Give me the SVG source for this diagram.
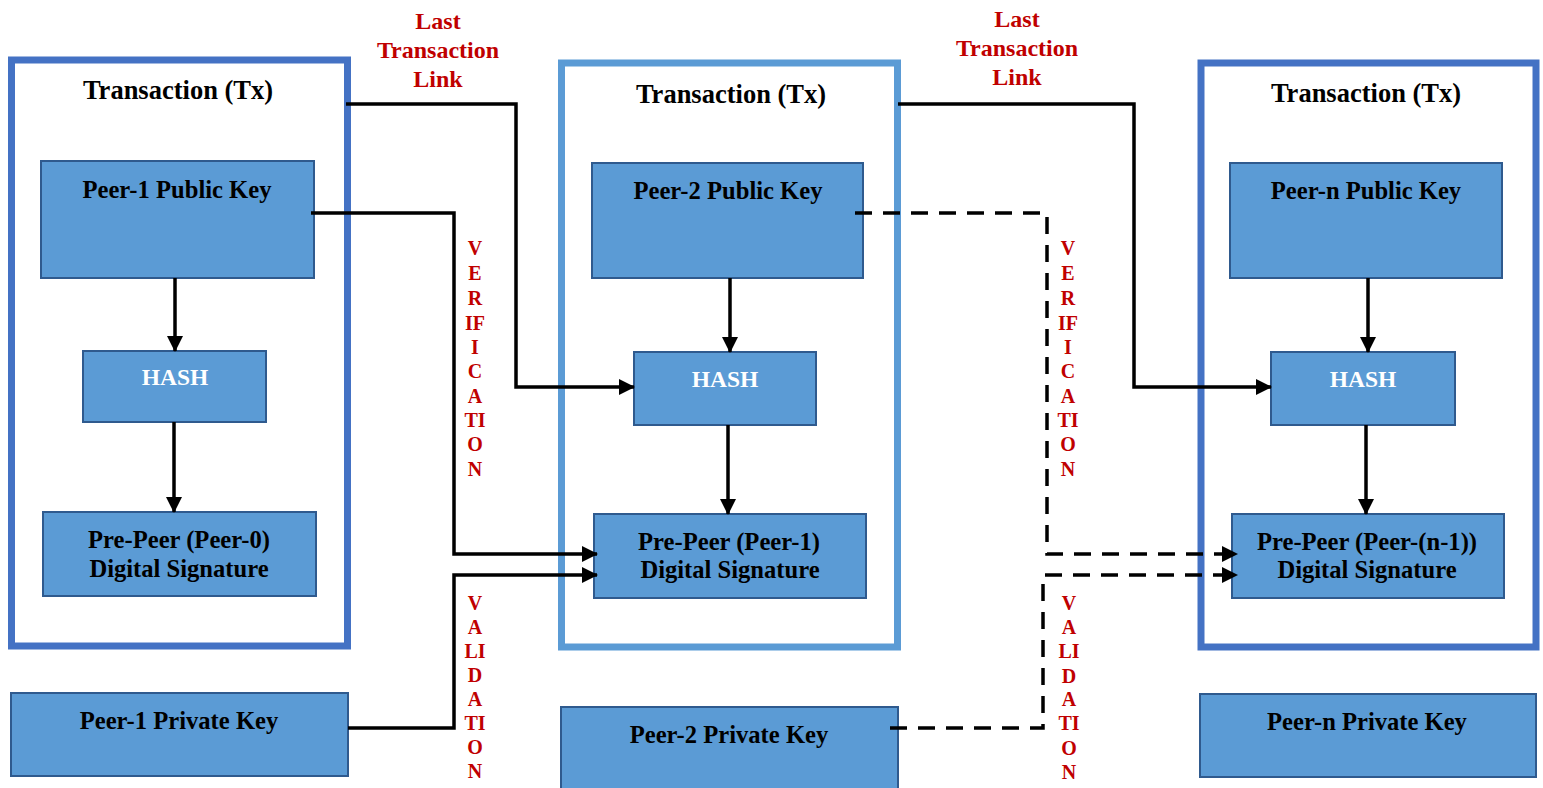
<svg xmlns="http://www.w3.org/2000/svg" width="1543" height="788" viewBox="0 0 1543 788">
<style>
.cont{fill:#fff;stroke-width:7}
.c1{stroke:#4472C4}.c2{stroke:#5B9BD5}
.box{fill:#5B9BD5;stroke:#2F5A8E;stroke-width:2}
text{font-family:"Liberation Serif","Times New Roman",serif;font-weight:bold;text-anchor:middle}
.title{font-size:26.5px;fill:#000}
.bt{font-size:24.6px;fill:#000}
.ht{font-size:23.5px;fill:#fff}
.red{font-size:24px;fill:#C00000}
.lt{font-size:20px;fill:#C00000}
.ln{fill:none;stroke:#000;stroke-width:3.5}
.dash{stroke-dasharray:17 11}
</style>
<defs>
<marker id="ah" markerUnits="userSpaceOnUse" markerWidth="16" markerHeight="16" refX="15" refY="8" orient="auto">
<path d="M0,0 L16,8 L0,16 z" fill="#000"/>
</marker>
</defs>

<g id="tx1">
<rect class="cont c1" x="11.5" y="60" width="336" height="586"/>
<text class="title" x="178" y="99">Transaction (Tx)</text>
</g>
<g id="tx2">
<rect class="cont c2" x="561.5" y="63" width="336" height="584"/>
<text class="title" x="731" y="103">Transaction (Tx)</text>
</g>
<g id="tx3">
<rect class="cont c1" x="1201" y="63" width="335" height="584"/>
<text class="title" x="1366" y="102">Transaction (Tx)</text>
</g>

<g id="pub1"><rect class="box" x="41" y="161" width="273" height="117"/><text class="bt" x="177" y="198">Peer-1 Public Key</text></g>
<g id="hash1"><rect class="box" x="83" y="351" width="183" height="71"/><text class="ht" x="175" y="385">HASH</text></g>
<g id="sig0"><rect class="box" x="43" y="512" width="273" height="84"/><text class="bt" x="179" y="548">Pre-Peer (Peer-0)</text><text class="bt" x="179" y="577">Digital Signature</text></g>
<g id="priv1"><rect class="box" x="11" y="693" width="337" height="83"/><text class="bt" x="179" y="729">Peer-1 Private Key</text></g>

<g id="pub2"><rect class="box" x="592" y="163" width="271" height="115"/><text class="bt" x="728" y="199">Peer-2 Public Key</text></g>
<g id="hash2"><rect class="box" x="634" y="352" width="182" height="73"/><text class="ht" x="725" y="387">HASH</text></g>
<g id="sig1"><rect class="box" x="594" y="514" width="272" height="84"/><text class="bt" x="729" y="550">Pre-Peer (Peer-1)</text><text class="bt" x="730" y="578">Digital Signature</text></g>
<g id="priv2"><rect class="box" x="561" y="707" width="337" height="90"/><text class="bt" x="729" y="743">Peer-2 Private Key</text></g>

<g id="pubn"><rect class="box" x="1230" y="163" width="272" height="115"/><text class="bt" x="1366" y="199">Peer-n Public Key</text></g>
<g id="hashn"><rect class="box" x="1271" y="352" width="184" height="73"/><text class="ht" x="1363" y="387">HASH</text></g>
<g id="sign1"><rect class="box" x="1232" y="514" width="272" height="84"/><text class="bt" x="1367" y="550">Pre-Peer (Peer-(n-1))</text><text class="bt" x="1367" y="578">Digital Signature</text></g>
<g id="privn"><rect class="box" x="1200" y="694" width="336" height="83"/><text class="bt" x="1367" y="730">Peer-n Private Key</text></g>

<g id="connectors">
<line class="ln" x1="175" y1="278" x2="175" y2="351" marker-end="url(#ah)"/>
<line class="ln" x1="174" y1="422" x2="174" y2="512" marker-end="url(#ah)"/>
<line class="ln" x1="730" y1="278" x2="730" y2="352" marker-end="url(#ah)"/>
<line class="ln" x1="728" y1="425" x2="728" y2="514" marker-end="url(#ah)"/>
<line class="ln" x1="1368" y1="278" x2="1368" y2="352" marker-end="url(#ah)"/>
<line class="ln" x1="1366" y1="425" x2="1366" y2="514" marker-end="url(#ah)"/>
<polyline class="ln" points="346,104 516,104 516,387 634,387" marker-end="url(#ah)"/>
<polyline class="ln" points="311,213 454,213 454,554 597,554" marker-end="url(#ah)"/>
<polyline class="ln" points="348,728 454,728 454,575 597,575" marker-end="url(#ah)"/>
<polyline class="ln" points="898,104 1134,104 1134,387 1271,387" marker-end="url(#ah)"/>
<polyline class="ln dash" points="855,213 1047,213 1047,554 1237,554" marker-end="url(#ah)"/>
<polyline class="ln dash" points="890,728 1043,728 1043,575 1237,575" marker-end="url(#ah)"/>
</g>

<g id="labels">
<text class="red" x="438" y="29">Last</text>
<text class="red" x="438" y="58">Transaction</text>
<text class="red" x="438" y="87">Link</text>
<text class="red" x="1017" y="27">Last</text>
<text class="red" x="1017" y="56">Transaction</text>
<text class="red" x="1017" y="85">Link</text>
<g class="lt">
<text class="lt" x="475" y="255">V</text><text class="lt" x="475" y="280">E</text><text class="lt" x="475" y="305">R</text><text class="lt" x="475" y="330">IF</text><text class="lt" x="475" y="354">I</text><text class="lt" x="475" y="378">C</text><text class="lt" x="475" y="403">A</text><text class="lt" x="475" y="427">TI</text><text class="lt" x="475" y="451">O</text><text class="lt" x="475" y="476">N</text>
<text class="lt" x="475" y="610">V</text><text class="lt" x="475" y="634">A</text><text class="lt" x="475" y="658">LI</text><text class="lt" x="475" y="682">D</text><text class="lt" x="475" y="706">A</text><text class="lt" x="475" y="730">TI</text><text class="lt" x="475" y="754">O</text><text class="lt" x="475" y="778">N</text>
<text class="lt" x="1068" y="255">V</text><text class="lt" x="1068" y="280">E</text><text class="lt" x="1068" y="305">R</text><text class="lt" x="1068" y="330">IF</text><text class="lt" x="1068" y="354">I</text><text class="lt" x="1068" y="378">C</text><text class="lt" x="1068" y="403">A</text><text class="lt" x="1068" y="427">TI</text><text class="lt" x="1068" y="451">O</text><text class="lt" x="1068" y="476">N</text>
<text class="lt" x="1069" y="610">V</text><text class="lt" x="1069" y="634">A</text><text class="lt" x="1069" y="658">LI</text><text class="lt" x="1069" y="683">D</text><text class="lt" x="1069" y="706">A</text><text class="lt" x="1069" y="730">TI</text><text class="lt" x="1069" y="755">O</text><text class="lt" x="1069" y="779">N</text>
</g>
</g>
</svg>
